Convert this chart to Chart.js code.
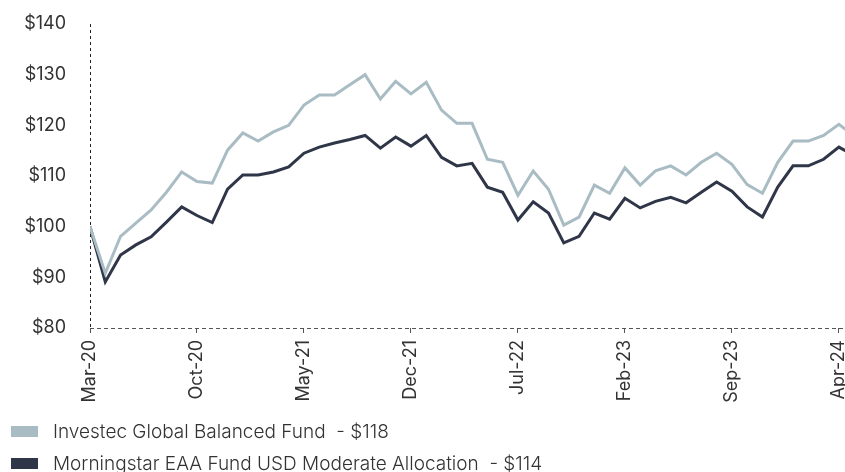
<!DOCTYPE html>
<html>
<head>
<meta charset="utf-8">
<script src="https://cdn.jsdelivr.net/npm/chart.js@4/dist/chart.umd.min.js"></script>
<style>
  body { margin: 0; background: #fff; }
  #wrap { position: relative; width: 845px; height: 472px; overflow: hidden; }
  #box { position: absolute; left: 0; top: 0; width: 845px; height: 420px; }
  #legend { position: absolute; left: 11px; top: 415px; font-family: Inter, sans-serif; font-weight: 300; font-size: 19px; color: #333; white-space: pre; }
  .item { display: flex; align-items: center; height: 32px; }
  .swatch { width: 27px; height: 11px; margin-right: 15px; }
</style>
</head>
<body>
<div id="wrap">
  <div id="box"><canvas id="fundChart"></canvas></div>
  <div id="legend"></div>
</div>
<script>
// monthly points Mar-20 .. May-24 (last one falls just past the right edge)
const months = [
  'Mar-20','Apr-20','May-20','Jun-20','Jul-20','Aug-20','Sep-20','Oct-20','Nov-20','Dec-20',
  'Jan-21','Feb-21','Mar-21','Apr-21','May-21','Jun-21','Jul-21','Aug-21','Sep-21','Oct-21',
  'Nov-21','Dec-21','Jan-22','Feb-22','Mar-22','Apr-22','May-22','Jun-22','Jul-22','Aug-22',
  'Sep-22','Oct-22','Nov-22','Dec-22','Jan-23','Feb-23','Mar-23','Apr-23','May-23','Jun-23',
  'Jul-23','Aug-23','Sep-23','Oct-23','Nov-23','Dec-23','Jan-24','Feb-24','Mar-24','Apr-24',
  'May-24'
];

const investec = [
  100, 90.8, 98.1, 100.7, 103.3, 106.8, 110.8, 108.9, 108.6, 115.1,
  118.5, 116.9, 118.7, 120.0, 124.0, 126.0, 126.0, 128.0, 130.0, 125.2,
  128.7, 126.2, 128.5, 123.0, 120.4, 120.4, 113.3, 112.7, 106.2, 111.0,
  107.4, 100.3, 101.9, 108.2, 106.6, 111.6, 108.2, 111.0, 112.0, 110.2,
  112.7, 114.5, 112.3, 108.3, 106.6, 112.7, 116.9, 116.9, 118.0, 120.2,
  118.0
];

const morningstar = [
  100, 89.1, 94.4, 96.4, 98.0, 100.9, 103.9, 102.2, 100.8, 107.4,
  110.2, 110.2, 110.8, 111.8, 114.5, 115.7, 116.5, 117.2, 118.0, 115.5,
  117.7, 115.9, 118.0, 113.7, 112.0, 112.5, 107.8, 106.8, 101.3, 104.9,
  102.7, 96.8, 98.1, 102.7, 101.5, 105.6, 103.7, 105.0, 105.8, 104.7,
  106.8, 108.8, 107.0, 103.9, 101.9, 107.8, 112.0, 112.0, 113.3, 115.7,
  114.0
];

const seriesNames = [
  'Investec Global Balanced Fund  - $118',
  'Morningstar EAA Fund USD Moderate Allocation  - $114'
];
const seriesColors = ['#a9bcc4', '#2f3648'];

const yTicks = [80, 90, 100, 110, 120, 130, 140];

const TICK_FONT = { family: 'Inter, sans-serif', size: 18 };

const toPoints = arr => arr.map((v, i) => ({ x: i, y: v }));

const chart = new Chart(document.getElementById('fundChart'), {
  type: 'line',
  data: {
    datasets: [
      {
        label: seriesNames[0],
        data: toPoints(investec),
        borderColor: seriesColors[0],
        backgroundColor: seriesColors[0],
        borderWidth: 3,
        pointRadius: 0,
        tension: 0
      },
      {
        label: seriesNames[1],
        data: toPoints(morningstar),
        borderColor: seriesColors[1],
        backgroundColor: seriesColors[1],
        borderWidth: 3,
        pointRadius: 0,
        tension: 0
      }
    ]
  },
  options: {
    responsive: true,
    maintainAspectRatio: false,
    animation: false,
    layout: { padding: { top: 24, left: 0, right: 0, bottom: 0 } },
    plugins: {
      legend: { display: false },
      tooltip: { enabled: false }
    },
    scales: {
      x: {
        type: 'linear',
        min: 0,
        max: 49.4,
        // only the first vertical grid line is shown -> dashed left axis line
        grid: {
          display: true,
          drawOnChartArea: true,
          drawTicks: true,
          tickLength: 5,
          color: c => (c.tick && c.tick.value === 0 ? '#222' : 'rgba(0,0,0,0)'),
          tickColor: '#555',
          tickBorderDash: []
        },
        border: { display: false, dash: [3, 3] },
        ticks: {
          stepSize: 7,
          includeBounds: false,
          autoSkip: false,
          minRotation: 90,
          maxRotation: 90,
          padding: 7,
          color: '#333',
          font: TICK_FONT,
          callback: v => months[v]
        },
        afterBuildTicks: s => { s.ticks = s.ticks.filter(t => Number.isInteger(t.value) && t.value % 7 === 0); },
        afterFit: s => { s.height = 92; s.paddingLeft = 0; s.paddingRight = 0; }
      },
      y: {
        min: yTicks[0],
        max: yTicks[yTicks.length - 1],
        // only the bottom horizontal grid line is shown -> dashed x axis line
        grid: {
          display: true,
          drawOnChartArea: true,
          drawTicks: false,
          color: c => (c.tick && c.tick.value === yTicks[0] ? '#555' : 'rgba(0,0,0,0)')
        },
        border: { display: false, dash: [4, 3] },
        ticks: {
          stepSize: 10,
          padding: 24,
          color: '#333',
          font: TICK_FONT,
          callback: v => '$' + v
        },
        afterBuildTicks: s => { s.ticks = yTicks.map(v => ({ value: v })); },
        afterFit: s => { s.width = 90; s.paddingTop = 0; s.paddingBottom = 0; }
      }
    }
  }
});

// html legend, one row per series
const legendEl = document.getElementById('legend');
chart.data.datasets.forEach(ds => {
  const row = document.createElement('div');
  row.className = 'item';
  const sw = document.createElement('span');
  sw.className = 'swatch';
  sw.style.background = ds.borderColor;
  const txt = document.createElement('span');
  txt.textContent = ds.label;
  row.appendChild(sw);
  row.appendChild(txt);
  legendEl.appendChild(row);
});
</script>
</body>
</html>
